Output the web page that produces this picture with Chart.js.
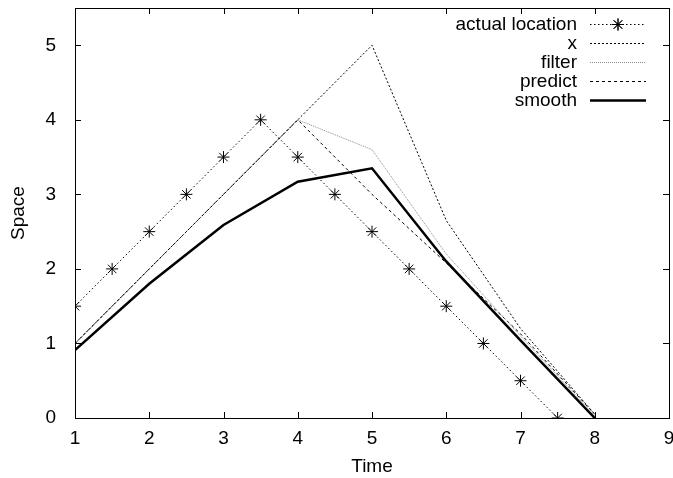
<!DOCTYPE html>
<html>
<head>
<meta charset="utf-8">
<script src="https://cdn.jsdelivr.net/npm/chart.js@4.4.1/dist/chart.umd.min.js"></script>
<style>
  html, body { margin: 0; padding: 0; background: #fff; }
  #wrap { width: 673px; height: 478px; }
</style>
</head>
<body>
<div id="wrap"><canvas id="chart" width="673" height="478"></canvas></div>
<script>
// Values
const actualTime = [1, 1.5, 2, 2.5, 3, 3.5, 4, 4.5, 5, 5.5, 6, 6.5, 7, 7.5];
const actualPos = [1.5, 2, 2.5, 3, 3.5, 4, 3.5, 3, 2.5, 2, 1.5, 1, 0.5, 0];
const steps = [1, 2, 3, 4, 5, 6, 7, 8];
const xVals = [1, 2, 3, 4, 5, 2.65, 1.2, 0.05];
const filterVals = [1, 2, 3, 4, 3.6, 2.2, 1.1, 0.03];
const predictVals = [1, 2, 3, 4, 3.0, 2.08, 1.13, 0.05];
const smoothVals = [0.91, 1.8, 2.59, 3.17, 3.35, 2.1, 1.04, 0];
const xTicks = [1, 2, 3, 4, 5, 6, 7, 8, 9];
const yTicks = [0, 1, 2, 3, 4, 5];

const FONT = 'Liberation Sans, Arial, Helvetica, sans-serif';
const FSIZE = 19;

function pts(xs, ys) {
    return xs.map((x, i) => ({ x: x, y: ys[i] }));
}

// gnuplot-ish frame: box border, inward ticks on all four sides, legend top-right
const framePlugin = {
    id: 'frame',
    afterDatasetsDraw(chart) {
        const ctx = chart.ctx;
        const a = chart.chartArea;
        const xs = chart.scales.x, ys = chart.scales.y;
        ctx.save();
        ctx.strokeStyle = '#000';
        ctx.lineWidth = 1;
        ctx.setLineDash([]);
        ctx.beginPath();
        xs.ticks.forEach(t => {
            const px = Math.round(xs.getPixelForValue(t.value)) + 0.5;
            ctx.moveTo(px, a.bottom); ctx.lineTo(px, a.bottom - 6);
            ctx.moveTo(px, a.top); ctx.lineTo(px, a.top + 6);
        });
        ys.ticks.forEach(t => {
            const py = Math.round(ys.getPixelForValue(t.value)) + 0.5;
            ctx.moveTo(a.left, py); ctx.lineTo(a.left + 6, py);
            ctx.moveTo(a.right, py); ctx.lineTo(a.right - 6, py);
        });
        ctx.stroke();
        ctx.strokeRect(Math.round(a.left) + 0.5, Math.round(a.top) + 0.5,
            Math.round(a.right - a.left), Math.round(a.bottom - a.top));

        // legend
        ctx.font = FSIZE + 'px ' + FONT;
        ctx.textAlign = 'right';
        ctx.textBaseline = 'middle';
        ctx.fillStyle = '#000';
        const textRight = 577, x0 = 590, x1 = 646;
        chart.data.datasets.forEach((ds, i) => {
            const y = 24 + i * 19;
            ctx.fillText(ds.label, textRight, y + 1);
            ctx.save();
            ctx.strokeStyle = ds.borderColor;
            ctx.lineWidth = ds.borderWidth;
            ctx.setLineDash(ds.borderDash || []);
            ctx.beginPath();
            ctx.moveTo(x0, y + 0.5); ctx.lineTo(x1, y + 0.5);
            ctx.stroke();
            ctx.restore();
            if (ds.pointRadius > 0) {
                Chart.helpers.drawPoint(ctx, {
                    pointStyle: ds.pointStyle, radius: ds.pointRadius,
                    borderWidth: 1
                }, (x0 + x1) / 2, y + 0.5);
                ctx.strokeStyle = '#000';
                ctx.stroke();
            }
        });
        ctx.restore();
    }
};

const line = (label, data, extra) => Object.assign({
    label: label,
    data: data,
    showLine: true,
    fill: false,
    borderColor: '#000',
    backgroundColor: '#000',
    borderWidth: 1,
    pointRadius: 0,
    tension: 0
}, extra);

new Chart(document.getElementById('chart'), {
    type: 'scatter',
    data: {
        datasets: [
            line('actual location', pts(actualTime, actualPos), {
                borderDash: [1.5, 2.5], pointRadius: 6, pointStyle: 'star',
                pointBorderColor: '#000', pointBorderWidth: 1
            }),
            line('x', pts(steps, xVals), { borderDash: [2, 2] }),
            line('filter', pts(steps, filterVals), { borderColor: '#888', borderDash: [1, 1] }),
            line('predict', pts(steps, predictVals), { borderDash: [3, 3] }),
            line('smooth', pts(steps, smoothVals), { borderWidth: 2.5 })
        ]
    },
    options: {
        responsive: false,
        animation: false,
        layout: { autoPadding: false, padding: { left: 0, right: 4, top: 8, bottom: 0 } },
        plugins: { legend: { display: false }, tooltip: { enabled: false } },
        scales: {
            x: {
                type: 'linear',
                min: 1, max: 9,
                afterBuildTicks: s => { s.ticks = xTicks.map(v => ({ value: v })); },
                afterFit: s => { s.height = 60; s.paddingLeft = 0; s.paddingRight = 0; },
                grid: { display: false, drawTicks: false },
                border: { display: false },
                ticks: { color: '#000', font: { family: FONT, size: FSIZE }, padding: 9, maxRotation: 0 },
                title: { display: true, text: 'Time', color: '#000', font: { family: FONT, size: FSIZE }, padding: { top: 0, bottom: 0 } }
            },
            y: {
                type: 'linear',
                min: 0, max: 5.5,
                afterBuildTicks: s => { s.ticks = yTicks.map(v => ({ value: v })); },
                afterFit: s => { s.width = 75; s.paddingTop = 0; s.paddingBottom = 0; },
                grid: { display: false, drawTicks: false },
                border: { display: false },
                ticks: { color: '#000', font: { family: FONT, size: FSIZE }, padding: 19 },
                title: { display: true, text: 'Space', color: '#000', font: { family: FONT, size: FSIZE }, padding: { top: 7, bottom: 0 } }
            }
        }
    },
    plugins: [framePlugin]
});
</script>
</body>
</html>
